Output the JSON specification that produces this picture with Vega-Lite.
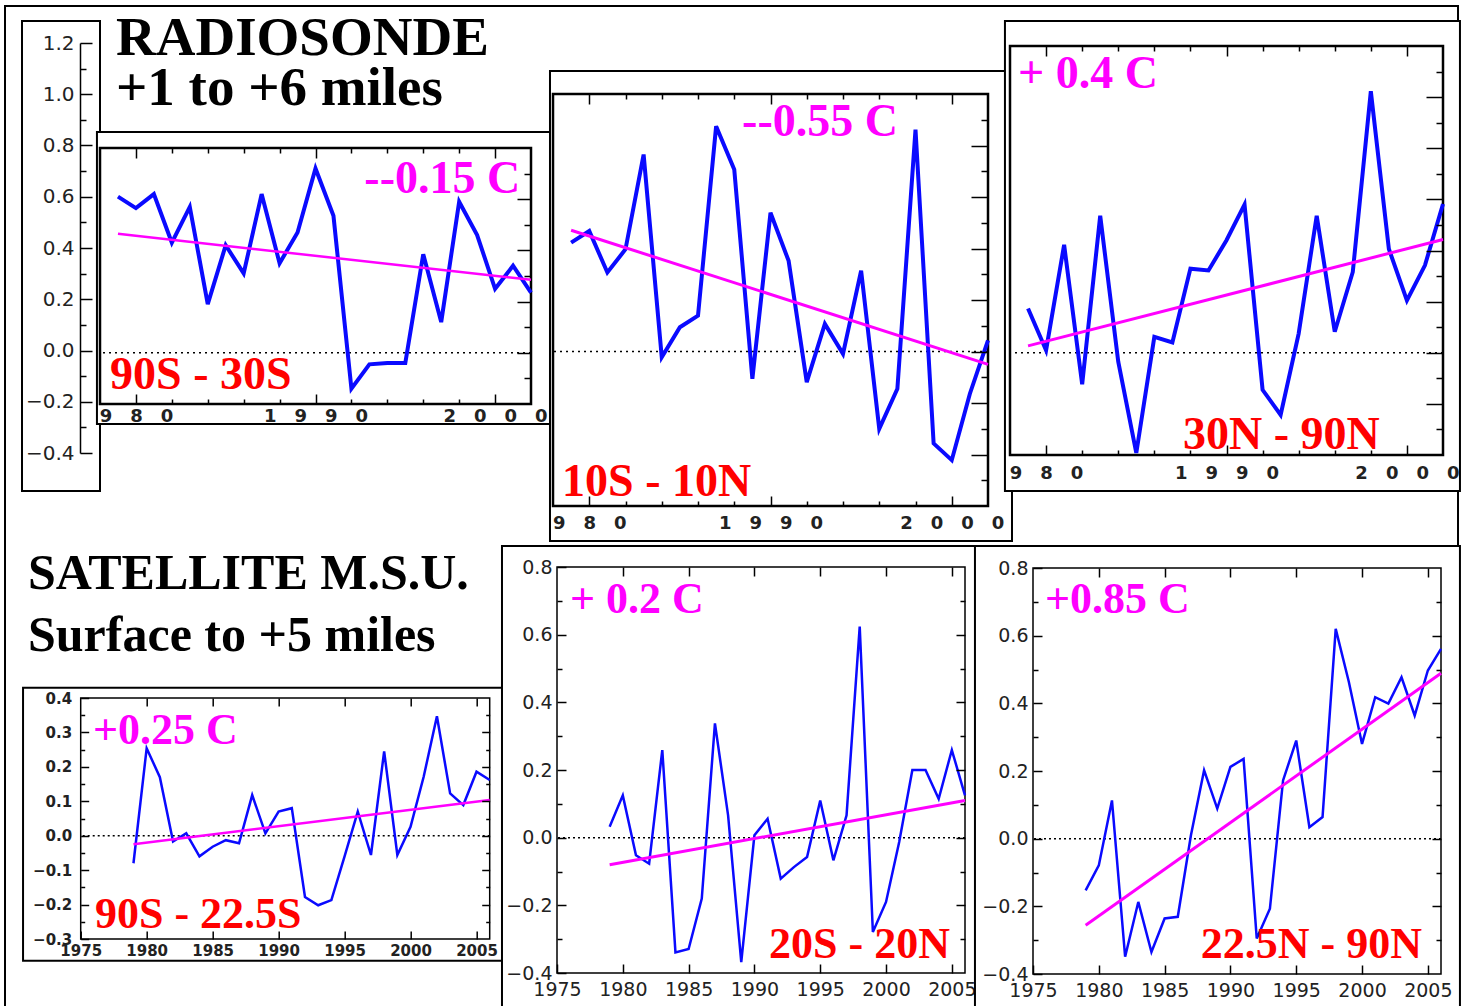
{
"$schema": "https://vega.github.io/schema/vega-lite/v6.json",
"background": "white",
"padding": 4,
"config": {"view": {"stroke": null}, "concat": {"spacing": 0}, "font": "DejaVu Sans"},
"datasets": {
"blank": [{"k": 0}],
"p1": [{"year":1979,"value":0.61},{"year":1980,"value":0.565},{"year":1981,"value":0.62},{"year":1982,"value":0.43},{"year":1983,"value":0.57},{"year":1984,"value":0.19},{"year":1985,"value":0.42},{"year":1986,"value":0.31},{"year":1987,"value":0.62},{"year":1988,"value":0.35},{"year":1989,"value":0.47},{"year":1990,"value":0.72},{"year":1991,"value":0.535},{"year":1992,"value":-0.14},{"year":1993,"value":-0.045},{"year":1994,"value":-0.04},{"year":1995,"value":-0.04},{"year":1996,"value":0.385},{"year":1997,"value":0.12},{"year":1998,"value":0.59},{"year":1999,"value":0.46},{"year":2000,"value":0.25},{"year":2001,"value":0.34},{"year":2002,"value":0.235}],
"p1t": [{"year":1979,"value":0.465},{"year":2002,"value":0.285}],
"p2": [{"year":1979,"value":0.423},{"year":1980,"value":0.468},{"year":1981,"value":0.307},{"year":1982,"value":0.397},{"year":1983,"value":0.765},{"year":1984,"value":-0.022},{"year":1985,"value":0.094},{"year":1986,"value":0.139},{"year":1987,"value":0.875},{"year":1988,"value":0.707},{"year":1989,"value":-0.106},{"year":1990,"value":0.539},{"year":1991,"value":0.352},{"year":1992,"value":-0.119},{"year":1993,"value":0.107},{"year":1994,"value":-0.009},{"year":1995,"value":0.314},{"year":1996,"value":-0.30},{"year":1997,"value":-0.145},{"year":1998,"value":0.862},{"year":1999,"value":-0.357},{"year":2000,"value":-0.422},{"year":2001,"value":-0.164},{"year":2002,"value":0.043}],
"p2t": [{"year":1979,"value":0.471},{"year":2002,"value":-0.05}],
"p3": [{"year":1979,"value":0.173},{"year":1980,"value":0.01},{"year":1981,"value":0.422},{"year":1982,"value":-0.123},{"year":1983,"value":0.536},{"year":1984,"value":-0.035},{"year":1985,"value":-0.392},{"year":1986,"value":0.062},{"year":1987,"value":0.04},{"year":1988,"value":0.329},{"year":1989,"value":0.322},{"year":1990,"value":0.44},{"year":1991,"value":0.58},{"year":1992,"value":-0.145},{"year":1993,"value":-0.243},{"year":1994,"value":0.075},{"year":1995,"value":0.536},{"year":1996,"value":0.082},{"year":1997,"value":0.316},{"year":1998,"value":1.023},{"year":1999,"value":0.406},{"year":2000,"value":0.205},{"year":2001,"value":0.342},{"year":2002,"value":0.582}],
"p3t": [{"year":1979,"value":0.027},{"year":2002,"value":0.443}],
"p4": [{"year":1979,"value":-0.08},{"year":1980,"value":0.254},{"year":1981,"value":0.17},{"year":1982,"value":-0.017},{"year":1983,"value":0.007},{"year":1984,"value":-0.06},{"year":1985,"value":-0.032},{"year":1986,"value":-0.013},{"year":1987,"value":-0.022},{"year":1988,"value":0.118},{"year":1989,"value":0.007},{"year":1990,"value":0.07},{"year":1991,"value":0.08},{"year":1992,"value":-0.178},{"year":1993,"value":-0.202},{"year":1994,"value":-0.187},{"year":1995,"value":-0.06},{"year":1996,"value":0.07},{"year":1997,"value":-0.056},{"year":1998,"value":0.245},{"year":1999,"value":-0.056},{"year":2000,"value":0.026},{"year":2001,"value":0.172},{"year":2002,"value":0.347},{"year":2003,"value":0.123},{"year":2004,"value":0.089},{"year":2005,"value":0.186},{"year":2006,"value":0.162}],
"p4t": [{"year":1979,"value":-0.025},{"year":2006,"value":0.104}],
"p5": [{"year":1979,"value":0.032},{"year":1980,"value":0.125},{"year":1981,"value":-0.052},{"year":1982,"value":-0.077},{"year":1983,"value":0.259},{"year":1984,"value":-0.339},{"year":1985,"value":-0.329},{"year":1986,"value":-0.18},{"year":1987,"value":0.338},{"year":1988,"value":0.066},{"year":1989,"value":-0.368},{"year":1990,"value":0.007},{"year":1991,"value":0.056},{"year":1992,"value":-0.121},{"year":1993,"value":-0.087},{"year":1994,"value":-0.057},{"year":1995,"value":0.11},{"year":1996,"value":-0.067},{"year":1997,"value":0.066},{"year":1998,"value":0.624},{"year":1999,"value":-0.279},{"year":2000,"value":-0.19},{"year":2001,"value":-0.013},{"year":2002,"value":0.2},{"year":2003,"value":0.2},{"year":2004,"value":0.115},{"year":2005,"value":0.259},{"year":2006,"value":0.125}],
"p5t": [{"year":1979,"value":-0.08},{"year":2006,"value":0.11}],
"p6": [{"year":1979,"value":-0.153},{"year":1980,"value":-0.079},{"year":1981,"value":0.113},{"year":1982,"value":-0.349},{"year":1983,"value":-0.187},{"year":1984,"value":-0.335},{"year":1985,"value":-0.236},{"year":1986,"value":-0.231},{"year":1987,"value":0.01},{"year":1988,"value":0.202},{"year":1989,"value":0.089},{"year":1990,"value":0.212},{"year":1991,"value":0.236},{"year":1992,"value":-0.295},{"year":1993,"value":-0.207},{"year":1994,"value":0.172},{"year":1995,"value":0.29},{"year":1996,"value":0.034},{"year":1997,"value":0.064},{"year":1998,"value":0.62},{"year":1999,"value":0.463},{"year":2000,"value":0.28},{"year":2001,"value":0.418},{"year":2002,"value":0.399},{"year":2003,"value":0.477},{"year":2004,"value":0.364},{"year":2005,"value":0.497},{"year":2006,"value":0.561}],
"p6t": [{"year":1979,"value":-0.256},{"year":2006,"value":0.489}]
},
"bounds": "flush",
"spacing": 531,
"hconcat": [
   {"bounds": "flush", "spacing": 655, "vconcat": [
    {"bounds": "flush", "spacing": 0, "hconcat": [
     {"width": 78, "height": 410, "data": {"name": "blank"}, "mark": {"type": "point", "opacity": 0, "size": 1},
      "title": {"text": ["SATELLITE M.S.U.", "Surface to +5 miles"], "orient": "bottom", "anchor": "start", "frame": "group", "font": "Liberation Serif", "fontSize": 50, "fontWeight": "bold", "color": "#000", "lineHeight": 62, "baseline": "alphabetic", "offset": 126, "dx": 6},
      "encoding": {"y": {"field": "k", "type": "quantitative", "scale": {"domain": [-0.4, 1.2], "nice": false, "zero": false},
        "axis": {"orient": "left", "offset": -58, "values": [-0.4,-0.3,-0.2,-0.1,0,0.1,0.2,0.3,0.4,0.5,0.6,0.7,0.8,0.9,1.0,1.1,1.2], "format": ".1f",
         "labelExpr": "round(datum.value*10) % 2 == 0 ? datum.label : ''",
         "tickSize": {"condition": {"test": "round(datum.value*10) % 2 == 0", "value": -12}, "value": -6},
         "labelPadding": 18, "domain": true, "domainColor": "#000", "domainWidth": 1.5, "tickColor": "#000", "tickWidth": 1.5, "grid": false, "title": null,
         "labelFont": "DejaVu Sans", "labelFontSize": 20, "labelColor": "#222", "zindex": 2, "labelOverlap": false, "labelFlush": false, "labelBound": false}}}},
     {"bounds": "flush", "spacing": 104, "vconcat": [
      {"width": 1, "height": 1, "data": {"name": "blank"}, "mark": {"type": "point", "opacity": 0, "size": 1},
       "title": {"text": ["RADIOSONDE", "+1 to +6 miles"], "orient": "bottom", "anchor": "start", "frame": "group", "font": "Liberation Serif", "fontSize": 55, "fontWeight": "bold", "color": "#000", "lineHeight": 50, "baseline": "alphabetic", "offset": 11, "dx": 16}},
      {"width": 431, "height": 256,
       "resolve": {"axis": {"x": "independent", "y": "independent"}},
       "layer": [
        {"data": {"name": "blank"}, "mark": {"type": "rect", "fillOpacity": 0, "stroke": "#000", "strokeWidth": 2},
         "encoding": {"x": {"datum": 1972.71, "scale": {"domain": [1978, 2002], "nice": false, "zero": false}, "axis": null}, "x2": {"datum": 2053.62}, "y": {"datum": 1.3547, "scale": {"domain": [-0.2, 0.8], "nice": false, "zero": false}, "axis": null}, "y2": {"datum": -2.59}}},
        {"data": {"name": "blank"}, "mark": {"type": "rect", "fillOpacity": 0, "stroke": "#000", "strokeWidth": 2},
         "encoding": {"x": {"datum": 1973.657, "scale": {"domain": [1978, 2002], "nice": false, "zero": false}, "axis": null}, "x2": {"datum": 1978}, "y": {"datum": 1.296, "scale": {"domain": [-0.2, 0.8], "nice": false, "zero": false}, "axis": null}, "y2": {"datum": -0.54}}},
        {"data": {"name": "blank"}, "mark": {"type": "rect", "fill": "white", "stroke": "#000", "strokeWidth": 2},
         "encoding": {"x": {"datum": 1977.83, "scale": {"domain": [1978, 2002], "nice": false, "zero": false}, "axis": null}, "x2": {"datum": 2003.06}, "y": {"datum": 0.8625, "scale": {"domain": [-0.2, 0.8], "nice": false, "zero": false}, "axis": null}, "y2": {"datum": -0.278}}},
        {"data": {"name": "blank"}, "mark": {"type": "rect", "fillOpacity": 0, "stroke": "#000", "strokeWidth": 2.5},
         "encoding": {"x": {"datum": 1978, "scale": {"domain": [1978, 2002], "nice": false, "zero": false}, "axis": null}, "x2": {"datum": 2002}, "y": {"datum": 0.8, "scale": {"domain": [-0.2, 0.8], "nice": false, "zero": false}, "axis": null}, "y2": {"datum": -0.2}}},
        {"data": {"name": "blank"}, "mark": {"type": "rule", "stroke": "#000", "strokeWidth": 1.5, "strokeDash": [2, 4]},
         "encoding": {"y": {"datum": 0, "scale": {"domain": [-0.2, 0.8], "nice": false, "zero": false}, "axis": null}}},
        {"data": {"name": "p1"}, "mark": {"type": "line", "color": "#0a0aff", "strokeWidth": 4},
         "encoding": {"x": {"field": "year", "type": "quantitative", "scale": {"domain": [1978, 2002], "nice": false, "zero": false},
           "axis": {"orient": "bottom", "values": [1980,1982,1984,1986,1988,1990,1992,1994,1996,1998,2000],
            "labelExpr": "datum.value == 1980 ? '\u2007\u20039\u20038\u20030' : datum.value == 1990 ? '1\u20039\u20039\u20030' : datum.value == 2000 ? '2\u20030\u20030\u20030' : ''",
            "tickSize": {"condition": {"test": "datum.value % 10 == 0", "value": -10}, "value": -5},
            "labelPadding": 13, "domain": false, "grid": false, "title": null, "tickColor": "#000", "tickWidth": 1.5,
            "labelFont": "DejaVu Sans", "labelFontWeight": "bold", "labelFontSize": 18, "labelColor": "#222", "zindex": 2, "labelOverlap": false, "labelFlush": false, "labelBound": false}},
          "y": {"field": "value", "type": "quantitative", "scale": {"domain": [-0.2, 0.8], "nice": false, "zero": false}, "axis": null}}},
        {"data": {"name": "p1t"}, "mark": {"type": "line", "color": "#ff00ff", "strokeWidth": 2.5},
         "encoding": {"x": {"field": "year", "type": "quantitative", "scale": {"domain": [1978, 2002], "nice": false, "zero": false},
           "axis": {"orient": "top", "values": [1980,1982,1984,1986,1988,1990,1992,1994,1996,1998,2000], "labels": false,
            "tickSize": {"condition": {"test": "datum.value % 10 == 0", "value": -10}, "value": -5},
            "domain": false, "grid": false, "title": null, "tickColor": "#000", "tickWidth": 1.5, "zindex": 2}},
          "y": {"field": "value", "type": "quantitative", "scale": {"domain": [-0.2, 0.8], "nice": false, "zero": false},
           "axis": {"orient": "right", "values": [-0.1,0,0.1,0.2,0.3,0.4,0.5,0.6,0.7], "labels": false,
            "tickSize": {"condition": {"test": "round(datum.value*10) % 2 == 0", "value": -14}, "value": -7},
            "domain": false, "grid": false, "title": null, "tickColor": "#000", "tickWidth": 1.5, "zindex": 2}}}},
        {"data": {"name": "blank"}, "mark": {"type": "text", "text": "--0.15 C", "font": "Liberation Serif", "fontWeight": "bold", "fontSize": 46, "color": "#ff00ff", "align": "right", "baseline": "alphabetic"},
         "encoding": {"x": {"datum": 2001.4, "scale": {"domain": [1978, 2002], "nice": false, "zero": false}, "axis": null}, "y": {"datum": 0.625, "scale": {"domain": [-0.2, 0.8], "nice": false, "zero": false}, "axis": null}}},
        {"data": {"name": "blank"}, "mark": {"type": "text", "text": "90S - 30S", "font": "Liberation Serif", "fontWeight": "bold", "fontSize": 46, "color": "#ff0000", "align": "left", "baseline": "alphabetic"},
         "encoding": {"x": {"datum": 1978.56, "scale": {"domain": [1978, 2002], "nice": false, "zero": false}, "axis": null}, "y": {"datum": -0.141, "scale": {"domain": [-0.2, 0.8], "nice": false, "zero": false}, "axis": null}}}
       ]}
     ]}
    ]},
    {"bounds": "flush", "spacing": 57.7, "hconcat": [
     {"width": 1, "height": 1, "data": {"name": "blank"}, "mark": {"type": "point", "opacity": 0, "size": 1}},
     {"width": 409, "height": 241,
      "resolve": {"axis": {"x": "independent", "y": "independent"}},
      "layer": [
       {"data": {"name": "blank"}, "mark": {"type": "rect", "fill": "white", "stroke": "#000", "strokeWidth": 2},
        "encoding": {"x": {"datum": 1970.63, "scale": {"domain": [1975, 2006], "nice": false, "zero": false}, "axis": null}, "x2": {"datum": 2007.17}, "y": {"datum": 0.43, "scale": {"domain": [-0.3, 0.4], "nice": false, "zero": false}, "axis": null}, "y2": {"datum": -0.363}}},
       {"data": {"name": "blank"}, "mark": {"type": "rect", "fillOpacity": 0, "stroke": "#000", "strokeWidth": 1.5},
        "encoding": {"x": {"datum": 1975, "scale": {"domain": [1975, 2006], "nice": false, "zero": false}, "axis": null}, "x2": {"datum": 2006}, "y": {"datum": 0.4, "scale": {"domain": [-0.3, 0.4], "nice": false, "zero": false}, "axis": null}, "y2": {"datum": -0.3}}},
       {"data": {"name": "blank"}, "mark": {"type": "rule", "stroke": "#000", "strokeWidth": 1.5, "strokeDash": [2, 3]},
        "encoding": {"y": {"datum": 0, "scale": {"domain": [-0.3, 0.4], "nice": false, "zero": false}, "axis": null}}},
       {"data": {"name": "p4"}, "mark": {"type": "line", "color": "#0a0aff", "strokeWidth": 2.5},
        "encoding": {"x": {"field": "year", "type": "quantitative", "scale": {"domain": [1975, 2006], "nice": false, "zero": false},
          "axis": {"orient": "bottom", "values": [1975,1980,1985,1990,1995,2000,2005], "format": "d", "tickSize": -8,
           "labelPadding": 12, "domain": false, "grid": false, "title": null, "tickColor": "#000", "tickWidth": 1.5,
           "labelFont": "DejaVu Sans", "labelFontWeight": "bold", "labelFontSize": 15, "labelColor": "#222", "zindex": 2, "labelOverlap": false, "labelFlush": false, "labelBound": false}},
         "y": {"field": "value", "type": "quantitative", "scale": {"domain": [-0.3, 0.4], "nice": false, "zero": false},
          "axis": {"orient": "left", "values": [-0.3,-0.25,-0.2,-0.15,-0.1,-0.05,0,0.05,0.1,0.15,0.2,0.25,0.3,0.35,0.4], "format": ".1f",
           "labelExpr": "abs(round(datum.value*20)) % 2 == 0 ? datum.label : ''",
           "tickSize": {"condition": {"test": "abs(round(datum.value*20)) % 2 == 0", "value": -8}, "value": -4},
           "labelPadding": 17, "domain": false, "grid": false, "title": null, "tickColor": "#000", "tickWidth": 1.5,
           "labelFont": "DejaVu Sans", "labelFontWeight": "bold", "labelFontSize": 15, "labelColor": "#222", "zindex": 2, "labelOverlap": false, "labelFlush": false, "labelBound": false}}}},
       {"data": {"name": "p4t"}, "mark": {"type": "line", "color": "#ff00ff", "strokeWidth": 2.5},
        "encoding": {"x": {"field": "year", "type": "quantitative", "scale": {"domain": [1975, 2006], "nice": false, "zero": false},
          "axis": {"orient": "top", "values": [1980,1985,1990,1995,2000,2005], "labels": false, "tickSize": -8,
           "domain": false, "grid": false, "title": null, "tickColor": "#000", "tickWidth": 1.5, "zindex": 2}},
         "y": {"field": "value", "type": "quantitative", "scale": {"domain": [-0.3, 0.4], "nice": false, "zero": false},
          "axis": {"orient": "right", "values": [-0.25,-0.2,-0.15,-0.1,-0.05,0,0.05,0.1,0.15,0.2,0.25,0.3,0.35], "labels": false,
           "tickSize": {"condition": {"test": "abs(round(datum.value*20)) % 2 == 0", "value": -8}, "value": -4},
           "domain": false, "grid": false, "title": null, "tickColor": "#000", "tickWidth": 1.5, "zindex": 2}}}},
       {"data": {"name": "blank"}, "mark": {"type": "text", "text": "+0.25 C", "font": "Liberation Serif", "fontWeight": "bold", "fontSize": 44, "color": "#ff00ff", "align": "left", "baseline": "alphabetic"},
        "encoding": {"x": {"datum": 1975.93, "scale": {"domain": [1975, 2006], "nice": false, "zero": false}, "axis": null}, "y": {"datum": 0.267, "scale": {"domain": [-0.3, 0.4], "nice": false, "zero": false}, "axis": null}}},
       {"data": {"name": "blank"}, "mark": {"type": "text", "text": "90S - 22.5S", "font": "Liberation Serif", "fontWeight": "bold", "fontSize": 44, "color": "#ff0000", "align": "left", "baseline": "alphabetic"},
        "encoding": {"x": {"datum": 1976.08, "scale": {"domain": [1975, 2006], "nice": false, "zero": false}, "axis": null}, "y": {"datum": -0.267, "scale": {"domain": [-0.3, 0.4], "nice": false, "zero": false}, "axis": null}}}
      ]}
    ]}
   ]},
  {"bounds": "flush", "spacing": 457, "hconcat": [
   {"bounds": "flush", "spacing": 524, "vconcat": [
    {"bounds": "flush", "spacing": 50, "vconcat": [
     {"width": 1, "height": 1, "data": {"name": "blank"}, "mark": {"type": "point", "opacity": 0, "size": 1}},
     {"width": 435, "height": 412,
      "resolve": {"axis": {"x": "independent", "y": "independent"}},
      "layer": [
       {"data": {"name": "blank"}, "mark": {"type": "rect", "fill": "white", "stroke": "#000", "strokeWidth": 2},
        "encoding": {"x": {"datum": 1977.834, "scale": {"domain": [1978, 2002], "nice": false, "zero": false}, "axis": null}, "x2": {"datum": 2003.324}, "y": {"datum": 1.0893, "scale": {"domain": [-0.6, 1.0], "nice": false, "zero": false}, "axis": null}, "y2": {"datum": -0.7359}}},
       {"data": {"name": "blank"}, "mark": {"type": "rect", "fillOpacity": 0, "stroke": "#000", "strokeWidth": 2.5},
        "encoding": {"x": {"datum": 1978, "scale": {"domain": [1978, 2002], "nice": false, "zero": false}, "axis": null}, "x2": {"datum": 2002}, "y": {"datum": 1.0, "scale": {"domain": [-0.6, 1.0], "nice": false, "zero": false}, "axis": null}, "y2": {"datum": -0.6}}},
       {"data": {"name": "blank"}, "mark": {"type": "rule", "stroke": "#000", "strokeWidth": 1.5, "strokeDash": [2, 4]},
        "encoding": {"y": {"datum": 0, "scale": {"domain": [-0.6, 1.0], "nice": false, "zero": false}, "axis": null}}},
       {"data": {"name": "p2"}, "mark": {"type": "line", "color": "#0a0aff", "strokeWidth": 4},
        "encoding": {"x": {"field": "year", "type": "quantitative", "scale": {"domain": [1978, 2002], "nice": false, "zero": false},
          "axis": {"orient": "bottom", "values": [1980,1982,1984,1986,1988,1990,1992,1994,1996,1998,2000],
           "labelExpr": "datum.value == 1980 ? '\u2007\u20039\u20038\u20030' : datum.value == 1990 ? '1\u20039\u20039\u20030' : datum.value == 2000 ? '2\u20030\u20030\u20030' : ''",
           "tickSize": {"condition": {"test": "datum.value % 10 == 0", "value": -10}, "value": -5},
           "labelPadding": 18, "domain": false, "grid": false, "title": null, "tickColor": "#000", "tickWidth": 1.5,
           "labelFont": "DejaVu Sans", "labelFontWeight": "bold", "labelFontSize": 18, "labelColor": "#222", "zindex": 2, "labelOverlap": false, "labelFlush": false, "labelBound": false}},
         "y": {"field": "value", "type": "quantitative", "scale": {"domain": [-0.6, 1.0], "nice": false, "zero": false}, "axis": null}}},
       {"data": {"name": "p2t"}, "mark": {"type": "line", "color": "#ff00ff", "strokeWidth": 3},
        "encoding": {"x": {"field": "year", "type": "quantitative", "scale": {"domain": [1978, 2002], "nice": false, "zero": false},
          "axis": {"orient": "top", "values": [1980,1982,1984,1986,1988,1990,1992,1994,1996,1998,2000], "labels": false,
           "tickSize": {"condition": {"test": "datum.value % 10 == 0", "value": -10}, "value": -5},
           "domain": false, "grid": false, "title": null, "tickColor": "#000", "tickWidth": 1.5, "zindex": 2}},
         "y": {"field": "value", "type": "quantitative", "scale": {"domain": [-0.6, 1.0], "nice": false, "zero": false},
          "axis": {"orient": "right", "values": [-0.5,-0.4,-0.3,-0.2,-0.1,0,0.1,0.2,0.3,0.4,0.5,0.6,0.7,0.8,0.9], "labels": false,
           "tickSize": {"condition": {"test": "round(datum.value*10) % 2 == 0", "value": -17}, "value": -7},
           "domain": false, "grid": false, "title": null, "tickColor": "#000", "tickWidth": 1.5, "zindex": 2}}}},
       {"data": {"name": "blank"}, "mark": {"type": "text", "text": "--0.55 C", "font": "Liberation Serif", "fontWeight": "bold", "fontSize": 46, "color": "#ff00ff", "align": "right", "baseline": "alphabetic"},
        "encoding": {"x": {"datum": 1997.03, "scale": {"domain": [1978, 2002], "nice": false, "zero": false}, "axis": null}, "y": {"datum": 0.837, "scale": {"domain": [-0.6, 1.0], "nice": false, "zero": false}, "axis": null}}},
       {"data": {"name": "blank"}, "mark": {"type": "text", "text": "10S - 10N", "font": "Liberation Serif", "fontWeight": "bold", "fontSize": 46, "color": "#ff0000", "align": "left", "baseline": "alphabetic"},
        "encoding": {"x": {"datum": 1978.5, "scale": {"domain": [1978, 2002], "nice": false, "zero": false}, "axis": null}, "y": {"datum": -0.561, "scale": {"domain": [-0.6, 1.0], "nice": false, "zero": false}, "axis": null}}}
      ]}
    ]},
    {"bounds": "flush", "spacing": 3, "hconcat": [
     {"width": 1, "height": 1, "data": {"name": "blank"}, "mark": {"type": "point", "opacity": 0, "size": 1}},
     {"width": 408, "height": 406,
      "resolve": {"axis": {"x": "independent", "y": "independent"}},
      "layer": [
       {"data": {"name": "blank"}, "mark": {"type": "rect", "fill": "white", "stroke": "#000", "strokeWidth": 2},
        "encoding": {"x": {"datum": 1970.82, "scale": {"domain": [1975, 2006], "nice": false, "zero": false}, "axis": null}, "x2": {"datum": 2007.14}, "y": {"datum": 0.862, "scale": {"domain": [-0.4, 0.8], "nice": false, "zero": false}, "axis": null}, "y2": {"datum": -0.524}}},
       {"data": {"name": "blank"}, "mark": {"type": "rect", "fillOpacity": 0, "stroke": "#000", "strokeWidth": 1.5},
        "encoding": {"x": {"datum": 1975, "scale": {"domain": [1975, 2006], "nice": false, "zero": false}, "axis": null}, "x2": {"datum": 2006}, "y": {"datum": 0.8, "scale": {"domain": [-0.4, 0.8], "nice": false, "zero": false}, "axis": null}, "y2": {"datum": -0.4}}},
       {"data": {"name": "blank"}, "mark": {"type": "rule", "stroke": "#000", "strokeWidth": 1.5, "strokeDash": [2, 3]},
        "encoding": {"y": {"datum": 0, "scale": {"domain": [-0.4, 0.8], "nice": false, "zero": false}, "axis": null}}},
       {"data": {"name": "p5"}, "mark": {"type": "line", "color": "#0a0aff", "strokeWidth": 2.5},
        "encoding": {"x": {"field": "year", "type": "quantitative", "scale": {"domain": [1975, 2006], "nice": false, "zero": false},
          "axis": {"orient": "bottom", "values": [1975,1980,1985,1990,1995,2000,2005], "format": "d", "tickSize": -9,
           "labelPadding": 16, "domain": false, "grid": false, "title": null, "tickColor": "#000", "tickWidth": 1.5,
           "labelFont": "DejaVu Sans", "labelFontSize": 19, "labelColor": "#222", "zindex": 2, "labelOverlap": false, "labelFlush": false, "labelBound": false}},
         "y": {"field": "value", "type": "quantitative", "scale": {"domain": [-0.4, 0.8], "nice": false, "zero": false},
          "axis": {"orient": "left", "values": [-0.4,-0.3,-0.2,-0.1,0,0.1,0.2,0.3,0.4,0.5,0.6,0.7,0.8], "format": ".1f",
           "labelExpr": "round(datum.value*10) % 2 == 0 ? datum.label : ''",
           "tickSize": {"condition": {"test": "round(datum.value*10) % 2 == 0", "value": -9}, "value": -5},
           "labelPadding": 14, "domain": false, "grid": false, "title": null, "tickColor": "#000", "tickWidth": 1.5,
           "labelFont": "DejaVu Sans", "labelFontSize": 19, "labelColor": "#222", "zindex": 2, "labelOverlap": false, "labelFlush": false, "labelBound": false}}}},
       {"data": {"name": "p5t"}, "mark": {"type": "line", "color": "#ff00ff", "strokeWidth": 3},
        "encoding": {"x": {"field": "year", "type": "quantitative", "scale": {"domain": [1975, 2006], "nice": false, "zero": false},
          "axis": {"orient": "top", "values": [1980,1985,1990,1995,2000,2005], "labels": false, "tickSize": -9,
           "domain": false, "grid": false, "title": null, "tickColor": "#000", "tickWidth": 1.5, "zindex": 2}},
         "y": {"field": "value", "type": "quantitative", "scale": {"domain": [-0.4, 0.8], "nice": false, "zero": false},
          "axis": {"orient": "right", "values": [-0.3,-0.2,-0.1,0,0.1,0.2,0.3,0.4,0.5,0.6,0.7], "labels": false,
           "tickSize": {"condition": {"test": "round(datum.value*10) % 2 == 0", "value": -9}, "value": -5},
           "domain": false, "grid": false, "title": null, "tickColor": "#000", "tickWidth": 1.5, "zindex": 2}}}},
       {"data": {"name": "blank"}, "mark": {"type": "text", "text": "+ 0.2 C", "font": "Liberation Serif", "fontWeight": "bold", "fontSize": 44, "color": "#ff00ff", "align": "left", "baseline": "alphabetic"},
        "encoding": {"x": {"datum": 1975.99, "scale": {"domain": [1975, 2006], "nice": false, "zero": false}, "axis": null}, "y": {"datum": 0.664, "scale": {"domain": [-0.4, 0.8], "nice": false, "zero": false}, "axis": null}}},
       {"data": {"name": "blank"}, "mark": {"type": "text", "text": "20S - 20N", "font": "Liberation Serif", "fontWeight": "bold", "fontSize": 44, "color": "#ff0000", "align": "right", "baseline": "alphabetic"},
        "encoding": {"x": {"datum": 2004.86, "scale": {"domain": [1975, 2006], "nice": false, "zero": false}, "axis": null}, "y": {"datum": -0.356, "scale": {"domain": [-0.4, 0.8], "nice": false, "zero": false}, "axis": null}}}
      ]}
    ]}
   ]},
   {"bounds": "flush", "spacing": 525, "vconcat": [
    {"bounds": "flush", "spacing": 2, "vconcat": [
     {"width": 1, "height": 1, "data": {"name": "blank"}, "mark": {"type": "point", "opacity": 0, "size": 1}},
     {"width": 433, "height": 409,
      "resolve": {"axis": {"x": "independent", "y": "independent"}},
      "layer": [
       {"data": {"name": "blank"}, "mark": {"type": "rect", "fill": "white", "stroke": "#000", "strokeWidth": 2},
        "encoding": {"x": {"datum": 1977.72, "scale": {"domain": [1978, 2002], "nice": false, "zero": false}, "axis": null}, "x2": {"datum": 2002.94}, "y": {"datum": 1.298, "scale": {"domain": [-0.4, 1.2], "nice": false, "zero": false}, "axis": null}, "y2": {"datum": -0.541}}},
       {"data": {"name": "blank"}, "mark": {"type": "rect", "fillOpacity": 0, "stroke": "#000", "strokeWidth": 2.5},
        "encoding": {"x": {"datum": 1978, "scale": {"domain": [1978, 2002], "nice": false, "zero": false}, "axis": null}, "x2": {"datum": 2002}, "y": {"datum": 1.2, "scale": {"domain": [-0.4, 1.2], "nice": false, "zero": false}, "axis": null}, "y2": {"datum": -0.4}}},
       {"data": {"name": "blank"}, "mark": {"type": "rule", "stroke": "#000", "strokeWidth": 1.5, "strokeDash": [2, 4]},
        "encoding": {"y": {"datum": 0, "scale": {"domain": [-0.4, 1.2], "nice": false, "zero": false}, "axis": null}}},
       {"data": {"name": "p3"}, "mark": {"type": "line", "color": "#0a0aff", "strokeWidth": 4},
        "encoding": {"x": {"field": "year", "type": "quantitative", "scale": {"domain": [1978, 2002], "nice": false, "zero": false},
          "axis": {"orient": "bottom", "values": [1980,1982,1984,1986,1988,1990,1992,1994,1996,1998,2000],
           "labelExpr": "datum.value == 1980 ? '\u2007\u20039\u20038\u20030' : datum.value == 1990 ? '1\u20039\u20039\u20030' : datum.value == 2000 ? '2\u20030\u20030\u20030' : ''",
           "tickSize": {"condition": {"test": "datum.value % 10 == 0", "value": -10}, "value": -5},
           "labelPadding": 19, "domain": false, "grid": false, "title": null, "tickColor": "#000", "tickWidth": 1.5,
           "labelFont": "DejaVu Sans", "labelFontWeight": "bold", "labelFontSize": 18, "labelColor": "#222", "zindex": 2, "labelOverlap": false, "labelFlush": false, "labelBound": false}},
         "y": {"field": "value", "type": "quantitative", "scale": {"domain": [-0.4, 1.2], "nice": false, "zero": false}, "axis": null}}},
       {"data": {"name": "p3t"}, "mark": {"type": "line", "color": "#ff00ff", "strokeWidth": 3},
        "encoding": {"x": {"field": "year", "type": "quantitative", "scale": {"domain": [1978, 2002], "nice": false, "zero": false},
          "axis": {"orient": "top", "values": [1980,1982,1984,1986,1988,1990,1992,1994,1996,1998,2000], "labels": false,
           "tickSize": {"condition": {"test": "datum.value % 10 == 0", "value": -10}, "value": -5},
           "domain": false, "grid": false, "title": null, "tickColor": "#000", "tickWidth": 1.5, "zindex": 2}},
         "y": {"field": "value", "type": "quantitative", "scale": {"domain": [-0.4, 1.2], "nice": false, "zero": false},
          "axis": {"orient": "right", "values": [-0.3,-0.2,-0.1,0,0.1,0.2,0.3,0.4,0.5,0.6,0.7,0.8,0.9,1.0,1.1], "labels": false,
           "tickSize": {"condition": {"test": "round(datum.value*10) % 2 == 0", "value": -17}, "value": -7},
           "domain": false, "grid": false, "title": null, "tickColor": "#000", "tickWidth": 1.5, "zindex": 2}}}},
       {"data": {"name": "blank"}, "mark": {"type": "text", "text": "+ 0.4 C", "font": "Liberation Serif", "fontWeight": "bold", "fontSize": 46, "color": "#ff00ff", "align": "left", "baseline": "alphabetic"},
        "encoding": {"x": {"datum": 1978.44, "scale": {"domain": [1978, 2002], "nice": false, "zero": false}, "axis": null}, "y": {"datum": 1.036, "scale": {"domain": [-0.4, 1.2], "nice": false, "zero": false}, "axis": null}}},
       {"data": {"name": "blank"}, "mark": {"type": "text", "text": "30N - 90N", "font": "Liberation Serif", "fontWeight": "bold", "fontSize": 46, "color": "#ff0000", "align": "left", "baseline": "alphabetic"},
        "encoding": {"x": {"datum": 1987.59, "scale": {"domain": [1978, 2002], "nice": false, "zero": false}, "axis": null}, "y": {"datum": -0.377, "scale": {"domain": [-0.4, 1.2], "nice": false, "zero": false}, "axis": null}}}
      ]}
    ]},
    {"bounds": "flush", "spacing": 22, "hconcat": [
     {"width": 1, "height": 1, "data": {"name": "blank"}, "mark": {"type": "point", "opacity": 0, "size": 1}},
     {"width": 408, "height": 406,
      "resolve": {"axis": {"x": "independent", "y": "independent"}},
      "layer": [
       {"data": {"name": "blank"}, "mark": {"type": "rect", "fill": "white", "stroke": "#000", "strokeWidth": 2},
        "encoding": {"x": {"datum": 1970.59, "scale": {"domain": [1975, 2006], "nice": false, "zero": false}, "axis": null}, "x2": {"datum": 2007.44}, "y": {"datum": 0.865, "scale": {"domain": [-0.4, 0.8], "nice": false, "zero": false}, "axis": null}, "y2": {"datum": -0.524}}},
       {"data": {"name": "blank"}, "mark": {"type": "rect", "fillOpacity": 0, "stroke": "#000", "strokeWidth": 1.5},
        "encoding": {"x": {"datum": 1975, "scale": {"domain": [1975, 2006], "nice": false, "zero": false}, "axis": null}, "x2": {"datum": 2006}, "y": {"datum": 0.8, "scale": {"domain": [-0.4, 0.8], "nice": false, "zero": false}, "axis": null}, "y2": {"datum": -0.4}}},
       {"data": {"name": "blank"}, "mark": {"type": "rule", "stroke": "#000", "strokeWidth": 1.5, "strokeDash": [2, 3]},
        "encoding": {"y": {"datum": 0, "scale": {"domain": [-0.4, 0.8], "nice": false, "zero": false}, "axis": null}}},
       {"data": {"name": "p6"}, "mark": {"type": "line", "color": "#0a0aff", "strokeWidth": 2.5},
        "encoding": {"x": {"field": "year", "type": "quantitative", "scale": {"domain": [1975, 2006], "nice": false, "zero": false},
          "axis": {"orient": "bottom", "values": [1975,1980,1985,1990,1995,2000,2005], "format": "d", "tickSize": -9,
           "labelPadding": 16, "domain": false, "grid": false, "title": null, "tickColor": "#000", "tickWidth": 1.5,
           "labelFont": "DejaVu Sans", "labelFontSize": 19, "labelColor": "#222", "zindex": 2, "labelOverlap": false, "labelFlush": false, "labelBound": false}},
         "y": {"field": "value", "type": "quantitative", "scale": {"domain": [-0.4, 0.8], "nice": false, "zero": false},
          "axis": {"orient": "left", "values": [-0.4,-0.3,-0.2,-0.1,0,0.1,0.2,0.3,0.4,0.5,0.6,0.7,0.8], "format": ".1f",
           "labelExpr": "round(datum.value*10) % 2 == 0 ? datum.label : ''",
           "tickSize": {"condition": {"test": "round(datum.value*10) % 2 == 0", "value": -9}, "value": -5},
           "labelPadding": 14, "domain": false, "grid": false, "title": null, "tickColor": "#000", "tickWidth": 1.5,
           "labelFont": "DejaVu Sans", "labelFontSize": 19, "labelColor": "#222", "zindex": 2, "labelOverlap": false, "labelFlush": false, "labelBound": false}}}},
       {"data": {"name": "p6t"}, "mark": {"type": "line", "color": "#ff00ff", "strokeWidth": 3},
        "encoding": {"x": {"field": "year", "type": "quantitative", "scale": {"domain": [1975, 2006], "nice": false, "zero": false},
          "axis": {"orient": "top", "values": [1980,1985,1990,1995,2000,2005], "labels": false, "tickSize": -9,
           "domain": false, "grid": false, "title": null, "tickColor": "#000", "tickWidth": 1.5, "zindex": 2}},
         "y": {"field": "value", "type": "quantitative", "scale": {"domain": [-0.4, 0.8], "nice": false, "zero": false},
          "axis": {"orient": "right", "values": [-0.3,-0.2,-0.1,0,0.1,0.2,0.3,0.4,0.5,0.6,0.7], "labels": false,
           "tickSize": {"condition": {"test": "round(datum.value*10) % 2 == 0", "value": -9}, "value": -5},
           "domain": false, "grid": false, "title": null, "tickColor": "#000", "tickWidth": 1.5, "zindex": 2}}}},
       {"data": {"name": "blank"}, "mark": {"type": "text", "text": "+0.85 C", "font": "Liberation Serif", "fontWeight": "bold", "fontSize": 44, "color": "#ff00ff", "align": "left", "baseline": "alphabetic"},
        "encoding": {"x": {"datum": 1975.91, "scale": {"domain": [1975, 2006], "nice": false, "zero": false}, "axis": null}, "y": {"datum": 0.667, "scale": {"domain": [-0.4, 0.8], "nice": false, "zero": false}, "axis": null}}},
       {"data": {"name": "blank"}, "mark": {"type": "text", "text": "22.5N - 90N", "font": "Liberation Serif", "fontWeight": "bold", "fontSize": 44, "color": "#ff0000", "align": "right", "baseline": "alphabetic"},
        "encoding": {"x": {"datum": 2004.56, "scale": {"domain": [1975, 2006], "nice": false, "zero": false}, "axis": null}, "y": {"datum": -0.353, "scale": {"domain": [-0.4, 0.8], "nice": false, "zero": false}, "axis": null}}}
      ]}
    ]}
   ]}
  ]}
]
}
